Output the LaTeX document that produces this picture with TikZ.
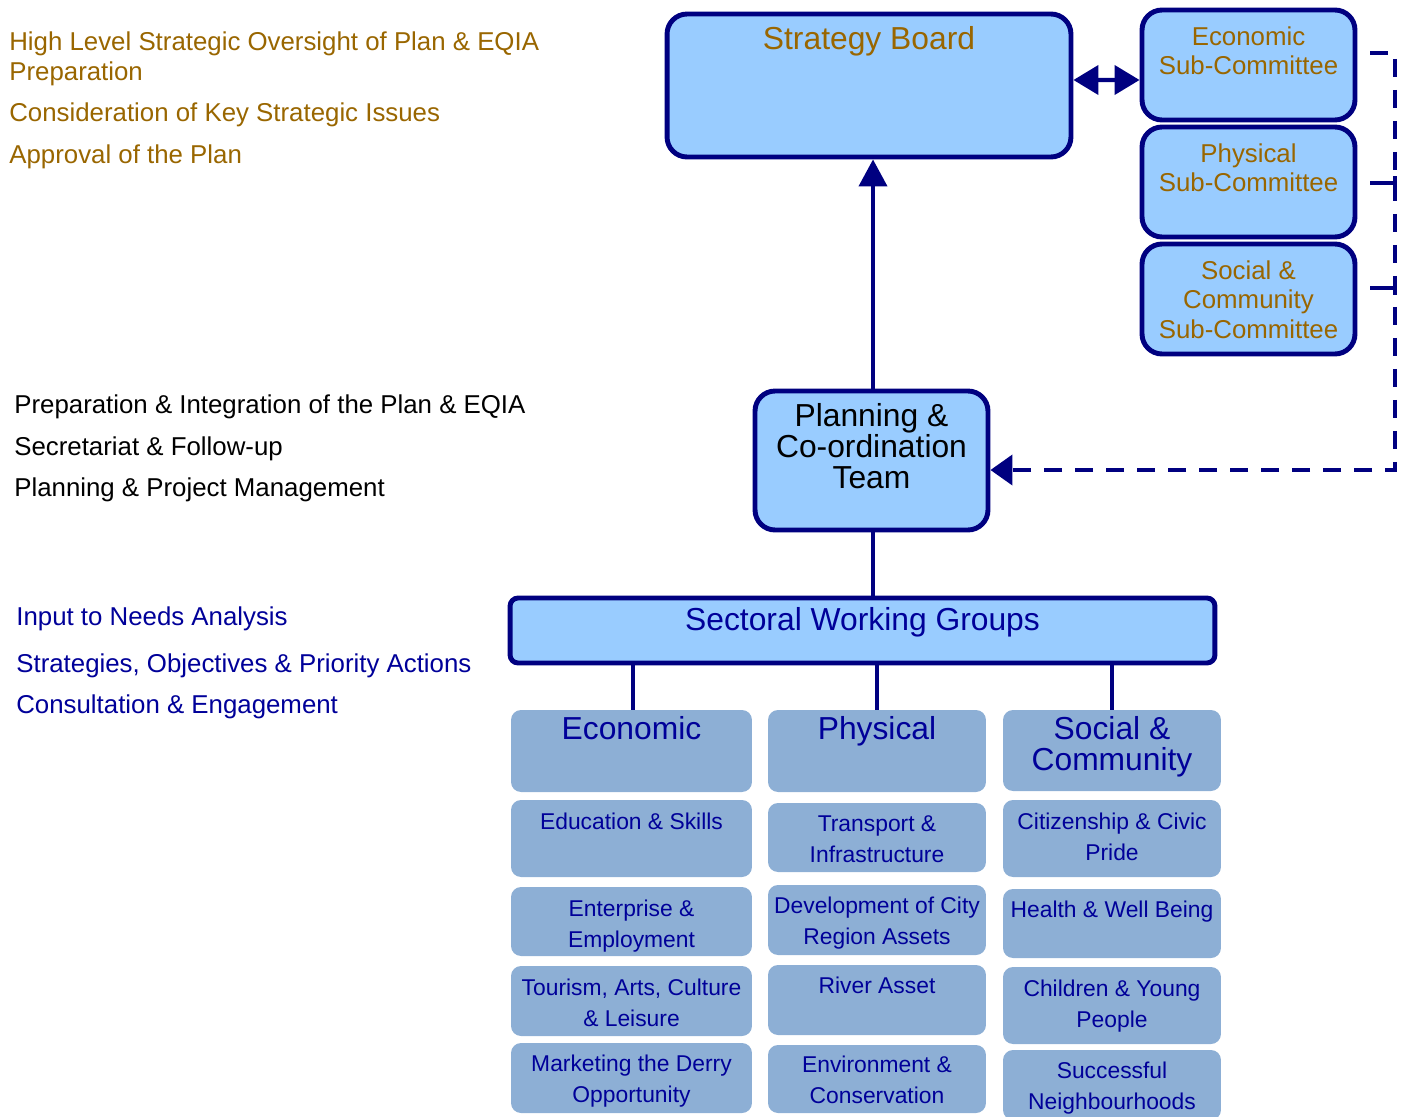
\documentclass[tikz,border=0pt]{standalone}
\usepackage{fontspec}
\setmainfont{Liberation Sans}
\usetikzlibrary{positioning,arrows.meta,calc}
\usepackage{xcolor}
\definecolor{NavyLine}{rgb}{0.0000000,0.0000000,0.5019608}
\definecolor{BoardBlue}{HTML}{99CCFF}
\definecolor{GroupBlue}{HTML}{8DAFD5}
\definecolor{GoldText}{HTML}{996600}
\definecolor{GroupText}{HTML}{000099}

\begin{document}
\begin{tikzpicture}[x=0.02cm, y=-0.02cm,
  topbox/.style={rectangle, draw=NavyLine, line width=2.8pt, fill=BoardBlue, rounded corners=0.4cm},
  groupbox/.style={rectangle, fill=GroupBlue, rounded corners=0.2cm},
  boxtext/.style={anchor=north, inner sep=0pt, align=center},
  bigfont/.style={font=\fontsize{18.1}{17.6}\selectfont},
  midfont/.style={font=\fontsize{14.7}{17}\selectfont},
  smallfont/.style={font=\fontsize{13}{17.6}\selectfont},
  sidetext/.style={anchor=base west, inner sep=0pt, font=\fontsize{14.7}{17}\selectfont},
  conn/.style={draw=NavyLine, line width=2.3pt},
  dashconn/.style={draw=NavyLine, line width=2.3pt, dash pattern=on 0.36cm off 0.26cm}]
  \useasboundingbox (0,0) rectangle (1406,1116);

  \node[sidetext, text=GoldText, align=left] (oversight) at (9,80) {High Level Strategic Oversight of Plan \& EQIA\\Preparation};
  \node[sidetext, text=GoldText] (issues) at (9,121) {Consideration of Key Strategic Issues};
  \node[sidetext, text=GoldText] (approval) at (9,163) {Approval of the Plan};

  \node[sidetext, text=black] (integration) at (14,413) {Preparation \& Integration of the Plan \& EQIA};
  \node[sidetext, text=black] (secretariat) at (14,455) {Secretariat \& Follow-up};
  \node[sidetext, text=black] (management) at (14,496) {Planning \& Project Management};

  \node[sidetext, text=GroupText] (needs) at (16,625) {Input to Needs Analysis};
  \node[sidetext, text=GroupText] (priorities) at (16,672) {Strategies, Objectives \& Priority Actions};
  \node[sidetext, text=GroupText] (consultation) at (16,713) {Consultation \& Engagement};

  \node[topbox, minimum width=8.08cm, minimum height=2.86cm, label={[boxtext, bigfont, text=GoldText, yshift=-0.29cm]north:Strategy Board}] (board) at (869,85.5) {};
  \node[topbox, minimum width=4.26cm, minimum height=2.2cm, label={[boxtext, midfont, text=GoldText, yshift=-0.37cm]north:Economic\\Sub-Committee}] (eco) at (1248.5,65) {};
  \node[topbox, minimum width=4.26cm, minimum height=2.2cm, label={[boxtext, midfont, text=GoldText, yshift=-0.37cm]north:Physical\\Sub-Committee}] (phy) at (1248.5,182) {};
  \node[topbox, minimum width=4.26cm, minimum height=2.2cm, label={[boxtext, midfont, text=GoldText, yshift=-0.37cm]north:Social \&\\Community\\Sub-Committee}] (soc) at (1248.5,299) {};
  \draw[conn, {Triangle[length=0.5cm,width=0.58cm]}-{Triangle[length=0.5cm,width=0.58cm]}] ([yshift=0.11cm]board.east) -- ([yshift=-0.3cm]eco.west);

  \node[topbox, minimum width=4.66cm, minimum height=2.78cm, label={[boxtext, bigfont, text=black, yshift=-0.3cm]north:Planning \&\\Co-ordination\\Team}] (plan) at (871.5,460.5) {};
  \draw[conn, -{Triangle[length=0.54cm,width=0.56cm]}] ([xshift=0.03cm]plan.north) -- ([xshift=0.03cm]plan.north |- board.south);

  \coordinate (d1) at (1370,53);
  \coordinate (d2) at (1370,183);
  \coordinate (d3) at (1370,288);
  \coordinate (dc) at (1395,470);
  \draw[dashconn, -{Triangle[length=0.44cm,width=0.6cm]}] (d1) -| (dc) -- (dc -| plan.east);
  \draw[conn] (d2) -| ([yshift=0.14cm]d2 -| dc);
  \draw[conn] (d3) -| ([yshift=-0.14cm]d3 -| dc);

  \node[topbox, rounded corners=0.16cm, minimum width=14.1cm, minimum height=1.3cm, label={[boxtext, bigfont, text=GroupText, yshift=-0.24cm]north:Sectoral Working Groups}] (swg) at (862.5,630.5) {};
  \draw[conn] ([xshift=0.03cm]plan.south) -- ([xshift=0.03cm]plan.south |- swg.north);

  \node[groupbox, minimum width=4.82cm, minimum height=1.64cm, label={[boxtext, bigfont, text=GroupText, yshift=-0.13cm]north:Economic}] (econ) at (631.5,751) {};
  \node[groupbox, minimum width=4.82cm, minimum height=1.54cm, label={[boxtext, smallfont, text=GroupText, yshift=-0.26cm]north:Education \& Skills}] (edu) at (631.5,838.5) {};
  \node[groupbox, minimum width=4.82cm, minimum height=1.38cm, label={[boxtext, smallfont, text=GroupText, yshift=-0.26cm]north:Enterprise \&\\Employment}] (ent) at (631.5,921.5) {};
  \node[groupbox, minimum width=4.82cm, minimum height=1.4cm, label={[boxtext, smallfont, text=GroupText, yshift=-0.26cm]north:Tourism, Arts, Culture\\\& Leisure}] (tour) at (631.5,1001) {};
  \node[groupbox, minimum width=4.82cm, minimum height=1.4cm, label={[boxtext, smallfont, text=GroupText, yshift=-0.24cm]north:Marketing the Derry\\Opportunity}] (mkt) at (631.5,1078) {};
  \draw[conn] ([xshift=0.03cm]econ.north) -- ([xshift=0.03cm]econ.north |- swg.south);

  \node[groupbox, minimum width=4.36cm, minimum height=1.64cm, label={[boxtext, bigfont, text=GroupText, yshift=-0.13cm]north:Physical}] (phys) at (877,751) {};
  \node[groupbox, minimum width=4.36cm, minimum height=1.38cm, label={[boxtext, smallfont, text=GroupText, yshift=-0.26cm]north:Transport \&\\Infrastructure}] (trans) at (877,837.5) {};
  \node[groupbox, minimum width=4.36cm, minimum height=1.4cm, label={[boxtext, smallfont, text=GroupText, yshift=-0.24cm]north:Development of City\\Region Assets}] (dev) at (877,920) {};
  \node[groupbox, minimum width=4.36cm, minimum height=1.4cm, label={[boxtext, smallfont, text=GroupText, yshift=-0.24cm]north:River Asset}] (river) at (877,1000) {};
  \node[groupbox, minimum width=4.36cm, minimum height=1.36cm, label={[boxtext, smallfont, text=GroupText, yshift=-0.22cm]north:Environment \&\\Conservation}] (env) at (877,1079) {};
  \draw[conn] (phys.north) -- (phys.north |- swg.south);

  \node[groupbox, minimum width=4.36cm, minimum height=1.62cm, label={[boxtext, bigfont, text=GroupText, yshift=-0.13cm]north:Social \&\\Community}] (socgrp) at (1112,750.5) {};
  \node[groupbox, minimum width=4.36cm, minimum height=1.54cm, label={[boxtext, smallfont, text=GroupText, yshift=-0.26cm]north:Citizenship \& Civic\\Pride}] (cit) at (1112,838.5) {};
  \node[groupbox, minimum width=4.36cm, minimum height=1.38cm, label={[boxtext, smallfont, text=GroupText, yshift=-0.24cm]north:Health \& Well Being}] (health) at (1112,923.5) {};
  \node[groupbox, minimum width=4.36cm, minimum height=1.54cm, label={[boxtext, smallfont, text=GroupText, yshift=-0.26cm]north:Children \& Young\\People}] (child) at (1112,1005.5) {};
  \node[groupbox, minimum width=4.36cm, minimum height=1.4cm, label={[boxtext, smallfont, text=GroupText, yshift=-0.24cm]north:Successful\\Neighbourhoods}] (succ) at (1112,1085) {};
  \draw[conn] (socgrp.north) -- (socgrp.north |- swg.south);
\end{tikzpicture}
\end{document}
